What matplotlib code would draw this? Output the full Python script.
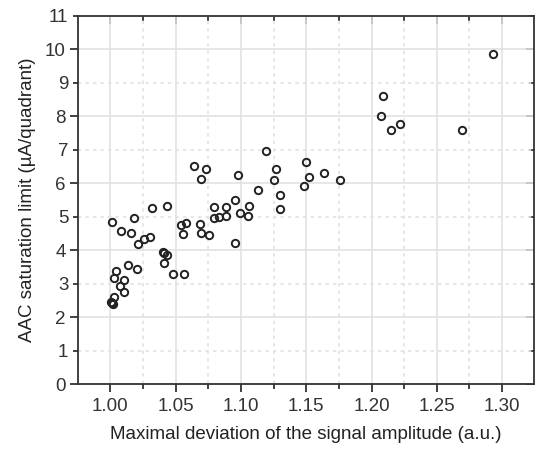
import numpy as np
import matplotlib.pyplot as plt
from matplotlib.ticker import MultipleLocator, FuncFormatter, NullFormatter

plt.rcParams['font.family'] = ['Liberation Sans', 'DejaVu Sans']

# deviation of signal amplitude (a.u.)
x = [1.0015, 1.018, 1.008, 1.016, 1.0316, 1.043, 1.0214, 1.0255, 1.030,
     1.040, 1.0413, 1.043, 1.041, 1.048, 1.0564, 1.0132, 1.0201, 1.0046,
     1.0028, 1.0107, 1.0077, 1.0104, 1.0028, 1.001, 1.0023, 1.0005,
     1.0643, 1.073, 1.0697, 1.054, 1.0577, 1.0556, 1.0686, 1.0697, 1.0758,
     1.0791, 1.0791, 1.0832, 1.0885, 1.0885, 1.0952, 1.0993, 1.0955, 1.098,
     1.1054, 1.1061, 1.1128, 1.1192, 1.1266, 1.1256, 1.1296, 1.1296,
     1.150, 1.152, 1.1636, 1.148, 1.1761,
     1.2087, 1.2073, 1.215, 1.2215, 1.2692, 1.293]
# AAC saturation limit (uA/quadrant)
y = [4.84, 4.96, 4.56, 4.51, 5.27, 5.31, 4.17, 4.33, 4.39,
     3.96, 3.93, 3.85, 3.61, 3.29, 3.29, 3.56, 3.45, 3.38,
     3.16, 3.12, 2.92, 2.74, 2.59, 2.43, 2.39, 2.46,
     6.52, 6.43, 6.12, 4.74, 4.80, 4.49, 4.79, 4.52, 4.44,
     5.28, 4.97, 5.00, 5.01, 5.30, 5.51, 5.12, 4.22, 6.26,
     5.03, 5.31, 5.81, 6.96, 6.43, 6.10, 5.64, 5.24,
     6.62, 6.20, 6.30, 5.91, 6.10,
     8.60, 8.01, 7.58, 7.78, 7.58, 9.87]

fig = plt.figure(figsize=(5.35, 4.55), dpi=100)
ax = fig.add_axes([0.1458, 0.156, 0.852, 0.809])

ax.plot(x, y, 'o', mfc='none', mec='#222222', ms=5.3, mew=1.4, zorder=3)

ax.set_xlim(0.9752, 1.3243)
ax.set_ylim(0, 11)
ax.xaxis.set_major_locator(MultipleLocator(0.05))
ax.xaxis.set_minor_locator(MultipleLocator(0.025))
ax.yaxis.set_major_locator(MultipleLocator(2))
ax.yaxis.set_minor_locator(MultipleLocator(1))
ax.xaxis.set_major_formatter(FuncFormatter(lambda v, p: '%.2f' % v))
ax.yaxis.set_major_formatter(FuncFormatter(lambda v, p: '%d' % round(v)))
ax.yaxis.set_minor_formatter(FuncFormatter(lambda v, p: '%d' % round(v)))

ax.grid(True, which='major', color='#e2e2e2', lw=1.2, ls='-')
ax.grid(True, which='minor', color='#e2e2e2', lw=1.2, ls=(0, (2, 2.5)))
ax.set_axisbelow(True)

for s in ax.spines.values():
    s.set_color('#333333')
    s.set_linewidth(1.3)

tc = '#333333'
ax.tick_params(which='both', colors=tc, width=1.3, labelsize=13.5, direction='out')
ax.tick_params(which='major', length=6)
ax.tick_params(which='minor', length=3.5)
ax.tick_params(axis='x', pad=4)
ax.tick_params(axis='y', pad=3)

# inward ticks on top and right
top = ax.secondary_xaxis('top')
top.xaxis.set_major_locator(MultipleLocator(0.05))
top.xaxis.set_minor_locator(MultipleLocator(0.025))
top.xaxis.set_major_formatter(NullFormatter())
top.tick_params(which='both', direction='in', colors=tc, width=1.3)
top.tick_params(which='major', length=6)
top.tick_params(which='minor', length=3.5)
top.spines['top'].set_visible(False)

right = ax.secondary_yaxis('right')
right.yaxis.set_major_locator(MultipleLocator(2))
right.yaxis.set_minor_locator(MultipleLocator(1))
right.yaxis.set_major_formatter(NullFormatter())
right.yaxis.set_minor_formatter(NullFormatter())
right.tick_params(which='both', direction='in', colors=tc, width=1.3)
right.tick_params(which='major', length=6)
right.tick_params(which='minor', length=3.5)
right.spines['right'].set_visible(False)

ax.set_xlabel('Maximal deviation of the signal amplitude (a.u.)', fontsize=13.5,
              color='#222222', labelpad=8)
ax.set_ylabel('AAC saturation limit (µA/quadrant)', fontsize=13.5,
              color='#222222', labelpad=6)

fig.savefig('out.png', dpi=100)
